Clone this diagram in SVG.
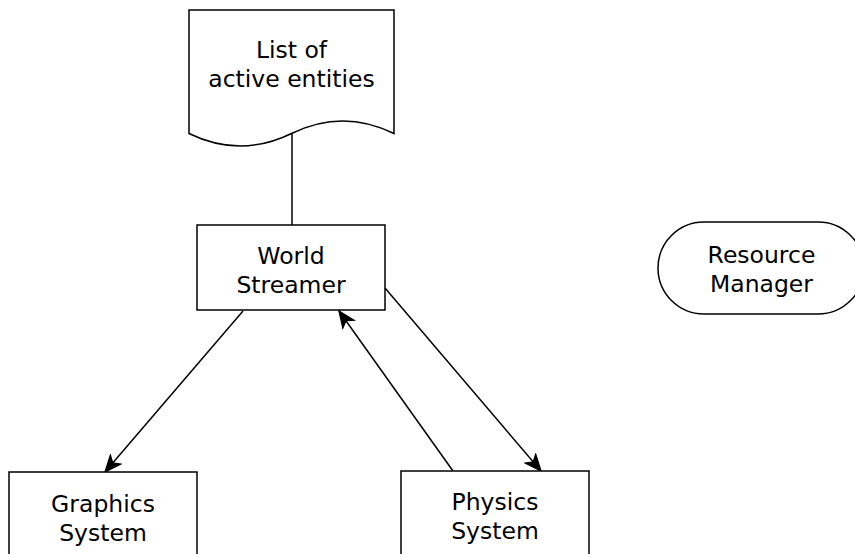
<svg xmlns="http://www.w3.org/2000/svg" width="855" height="554" viewBox="0 0 855 554">
<style>
.shape{fill:#fff;stroke:#000;stroke-width:1.5}
.edge{fill:none;stroke:#000;stroke-width:1.5}
text{font-family:"DejaVu Sans",sans-serif;font-size:23.5px;fill:#000;text-anchor:middle}
</style>
<defs>
<marker id="arr" markerUnits="userSpaceOnUse" markerWidth="20" markerHeight="20" viewBox="-14 -7 16 14" refX="0" refY="0" orient="auto">
<path d="M0,0 L-13,-5.5 L-9.5,0 L-13,5.5 Z" fill="#000" stroke="#000" stroke-width="1"/>
</marker>
</defs>
<rect width="855" height="554" fill="#fff"/>
<g id="connectors">
<line class="edge" x1="292" y1="131" x2="292" y2="225"/>
<line class="edge" x1="243" y1="311" x2="105" y2="472" marker-end="url(#arr)"/>
<line class="edge" x1="453" y1="471" x2="339" y2="311" marker-end="url(#arr)"/>
<line class="edge" x1="385" y1="288" x2="541" y2="471" marker-end="url(#arr)"/>
</g>
<g id="list-of-active-entities">
<path class="shape" d="M189,10 H394 V133.5 Q342.75,108.5 291.5,133.5 Q240.25,158.5 189,133.5 Z"/>
<text x="291.5" y="58">List of</text>
<text x="291.5" y="87">active entities</text>
</g>
<g id="world-streamer">
<rect class="shape" x="197" y="225" width="188" height="85"/>
<text x="291" y="264">World</text>
<text x="291" y="293">Streamer</text>
</g>
<g id="resource-manager">
<rect class="shape" x="658" y="222" width="206" height="92" rx="46" ry="46"/>
<text x="761.5" y="263">Resource</text>
<text x="761.5" y="292">Manager</text>
</g>
<g id="graphics-system">
<rect class="shape" x="9" y="472" width="188" height="100"/>
<text x="103" y="512">Graphics</text>
<text x="103" y="541">System</text>
</g>
<g id="physics-system">
<rect class="shape" x="401" y="471" width="188" height="100"/>
<text x="495" y="510">Physics</text>
<text x="495" y="539">System</text>
</g>
</svg>
